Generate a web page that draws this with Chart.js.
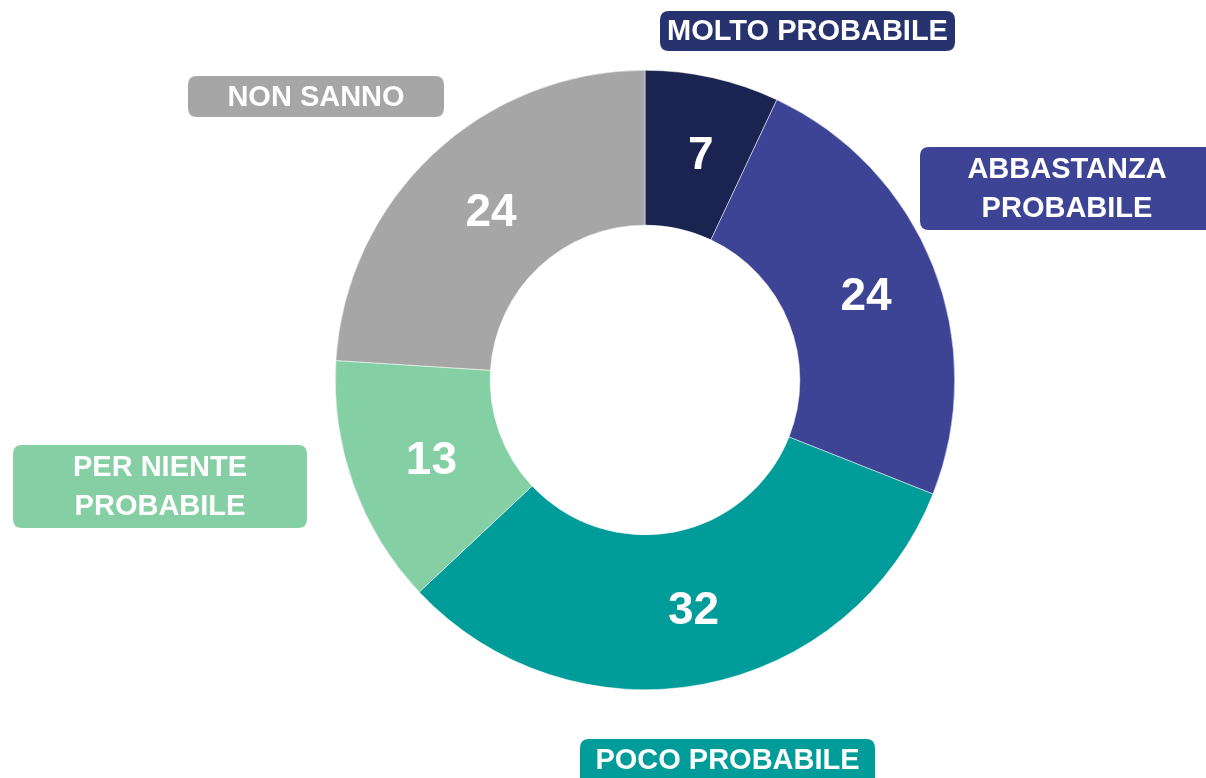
<!DOCTYPE html>
<html>
<head>
<meta charset="utf-8">
<script src="https://cdn.jsdelivr.net/npm/chart.js@4/dist/chart.umd.min.js"></script>
<style>
  html, body { margin: 0; padding: 0; background: #fff; }
  #wrap { position: relative; width: 1206px; height: 778px; }
</style>
</head>
<body>
<div id="wrap"><canvas id="chart-donut" width="1206" height="778"></canvas></div>
<script>
// Survey answers (percent)
const categories = ['MOLTO PROBABILE', 'ABBASTANZA PROBABILE', 'POCO PROBABILE', 'PER NIENTE PROBABILE', 'NON SANNO'];
const values = [7, 24, 32, 13, 24];
const sliceColors = ['#1b2450', '#3d4496', '#009c99', '#85cfa5', '#a6a6a6'];

// label boxes around the ring (layout only)
const boxes = [
  { x: 660, y: 11, w: 295, h: 40, color: '#26336f', lines: ['MOLTO PROBABILE'] },
  { x: 920, y: 147, w: 294, h: 83, color: '#3d4496', lines: ['ABBASTANZA', 'PROBABILE'] },
  { x: 580, y: 739, w: 295, h: 50, color: '#009c99', lines: ['POCO PROBABILE'], ty: 760 },
  { x: 13, y: 445, w: 294, h: 83, color: '#86cfa5', lines: ['PER NIENTE', 'PROBABILE'] },
  { x: 188, y: 76, w: 256, h: 41, color: '#a6a6a6', lines: ['NON SANNO'] }
];

function roundRect(ctx, x, y, w, h, r) {
  ctx.beginPath();
  ctx.moveTo(x + r, y);
  ctx.lineTo(x + w - r, y);
  ctx.quadraticCurveTo(x + w, y, x + w, y + r);
  ctx.lineTo(x + w, y + h - r);
  ctx.quadraticCurveTo(x + w, y + h, x + w - r, y + h);
  ctx.lineTo(x + r, y + h);
  ctx.quadraticCurveTo(x, y + h, x, y + h - r);
  ctx.lineTo(x, y + r);
  ctx.quadraticCurveTo(x, y, x + r, y);
  ctx.closePath();
}

const labelsPlugin = {
  id: 'sliceLabels',
  afterDatasetsDraw(chart) {
    const ctx = chart.ctx;
    const meta = chart.getDatasetMeta(0);
    ctx.save();
    // values inside the ring
    ctx.fillStyle = '#fff';
    ctx.font = 'bold 46px "Liberation Sans", Arial, sans-serif';
    ctx.textAlign = 'center';
    ctx.textBaseline = 'middle';
    meta.data.forEach((arc, i) => {
      const p = arc.tooltipPosition();
      ctx.fillText(String(values[i]), p.x + 5, p.y + 3);
    });
    // category boxes
    ctx.font = 'bold 29px "Liberation Sans", Arial, sans-serif';
    boxes.forEach(b => {
      ctx.fillStyle = b.color;
      roundRect(ctx, b.x, b.y, b.w, b.h, 9);
      ctx.fill();
      ctx.fillStyle = '#fff';
      const cx = b.x + b.w / 2;
      const lh = 39;
      const cy = b.ty || (b.y + b.h / 2);
      const start = cy - (b.lines.length - 1) * lh / 2;
      b.lines.forEach((t, k) => ctx.fillText(t, cx, start + k * lh + 1));
    });
    ctx.restore();
  }
};

const chart = new Chart(document.getElementById('chart-donut').getContext('2d'), {
  type: 'doughnut',
  data: {
    labels: categories,
    datasets: [{ data: values, backgroundColor: sliceColors, borderWidth: 0.5, borderColor: '#ffffff' }]
  },
  options: {
    responsive: false,
    animation: false,
    cutout: '50%',
    layout: { padding: { top: 70, bottom: 88, left: 84, right: 0 } },
    plugins: { legend: { display: false }, tooltip: { enabled: false } }
  },
  plugins: [labelsPlugin]
});
</script>
</body>
</html>
